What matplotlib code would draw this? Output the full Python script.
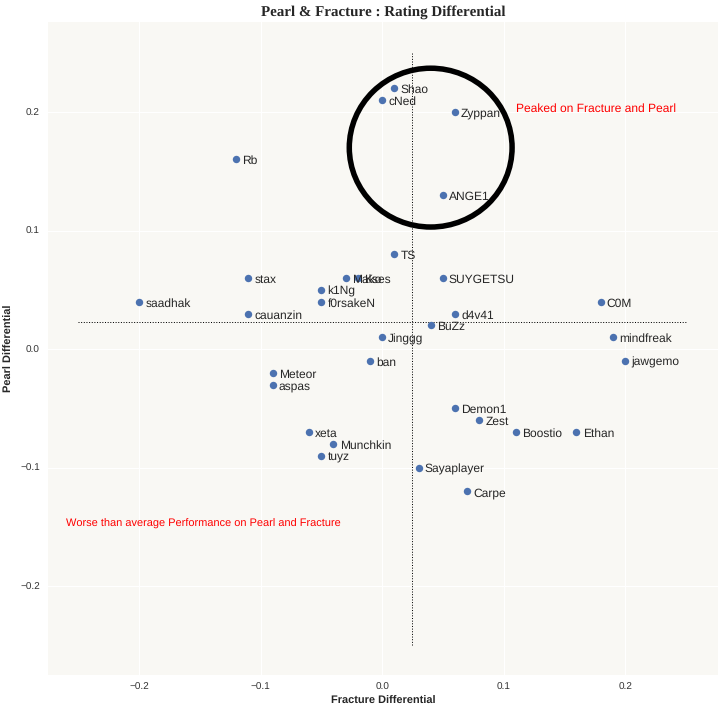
import matplotlib
matplotlib.use("Agg")
import matplotlib.pyplot as plt
from matplotlib.patches import Circle

plt.rcParams["text.hinting"] = "no_hinting"
plt.rcParams["text.hinting_factor"] = 1

players = ["Shao", "cNed", "Zyppan", "ANGE1", "Rb", "TS", "stax", "Mako", "Kses",
           "SUYGETSU", "k1Ng", "f0rsakeN", "saadhak", "C0M", "cauanzin", "d4v41",
           "BuZz", "Jinggg", "mindfreak", "ban", "jawgemo", "Meteor", "aspas",
           "Demon1", "Zest", "xeta", "Boostio", "Ethan", "Munchkin", "tuyz",
           "Sayaplayer", "Carpe"]
fracture_diff = [0.01, 0.0, 0.06, 0.05, -0.12, 0.01, -0.11, -0.03, -0.02,
                 0.05, -0.05, -0.05, -0.2, 0.18, -0.11, 0.06,
                 0.04, 0.0, 0.19, -0.01, 0.2, -0.09, -0.09,
                 0.06, 0.08, -0.06, 0.11, 0.16, -0.04, -0.05,
                 0.03, 0.07]
pearl_diff = [0.22, 0.21, 0.2, 0.13, 0.16, 0.08, 0.06, 0.06, 0.06,
              0.06, 0.05, 0.04, 0.04, 0.04, 0.03, 0.03,
              0.02, 0.01, 0.01, -0.01, -0.01, -0.02, -0.03,
              -0.05, -0.06, -0.07, -0.07, -0.07, -0.08, -0.09,
              -0.1, -0.12]
avg_fracture = 0.025
avg_pearl = 0.023

W, H = 724, 712
fig = plt.figure(figsize=(W / 72, H / 72), dpi=72)
ax = fig.add_axes([48 / W, (H - 675) / H, (718 - 48) / W, (675 - 22) / H])
ax.set_facecolor("#f9f8f4")
for s in ax.spines.values():
    s.set_visible(False)
ax.grid(True, color="white", linewidth=1)
ax.set_axisbelow(True)
ax.tick_params(length=0, labelsize=10, colors="#333333", pad=8)

ax.scatter(fracture_diff, pearl_diff, s=55, color="#4c72b0", zorder=3, linewidths=0)
for name, x, y in zip(players, fracture_diff, pearl_diff):
    ax.text(x + 0.005, y - 0.0015, name, fontsize=11.5, va="center", ha="left",
            family="Liberation Sans", color="#262626", zorder=4)

ax.plot([avg_fracture, avg_fracture], [-0.25, 0.25], color="black", linestyle=":", linewidth=1)
ax.plot([-0.25, 0.25], [avg_pearl, avg_pearl], color="black", linestyle=":", linewidth=1)

ax.add_patch(Circle((0.04, 0.17), 0.067, fill=False, edgecolor="black", linewidth=5.5, zorder=5))

ax.text(0.11, 0.2, "Peaked on Fracture and Pearl", color="red", fontsize=12,
        family="Liberation Sans", va="baseline")
ax.text(-0.26, -0.15, "Worse than average Performance on Pearl and Fracture", color="red",
        fontsize=11, family="Liberation Sans", va="baseline")

ax.set_xlim(-0.275, 0.2765)
ax.set_ylim(-0.275, 0.276)
ax.set_xticks([-0.2, -0.1, 0.0, 0.1, 0.2])
ax.set_yticks([-0.2, -0.1, 0.0, 0.1, 0.2])
ax.set_xticklabels(["\u22120.2", "\u22120.1", "0.0", "0.1", "0.2"], family="Liberation Sans")
ax.set_yticklabels(["\u22120.2", "\u22120.1", "0.0", "0.1", "0.2"], family="Liberation Sans")

ax.set_xlabel("Fracture Differential", fontsize=11, fontweight="bold",
              family=["Liberation Sans Narrow", "Liberation Sans"], color="#262626", labelpad=4)
ax.set_ylabel("Pearl Differential", fontsize=11, fontweight="bold",
              family=["Liberation Sans Narrow", "Liberation Sans"], color="#262626", labelpad=6)
ax.set_title("Pearl & Fracture : Rating Differential", fontsize=14.5, fontweight="bold",
             family="Liberation Serif", color="#262626", pad=6)

fig.savefig("out.png", dpi=72, facecolor="white")
